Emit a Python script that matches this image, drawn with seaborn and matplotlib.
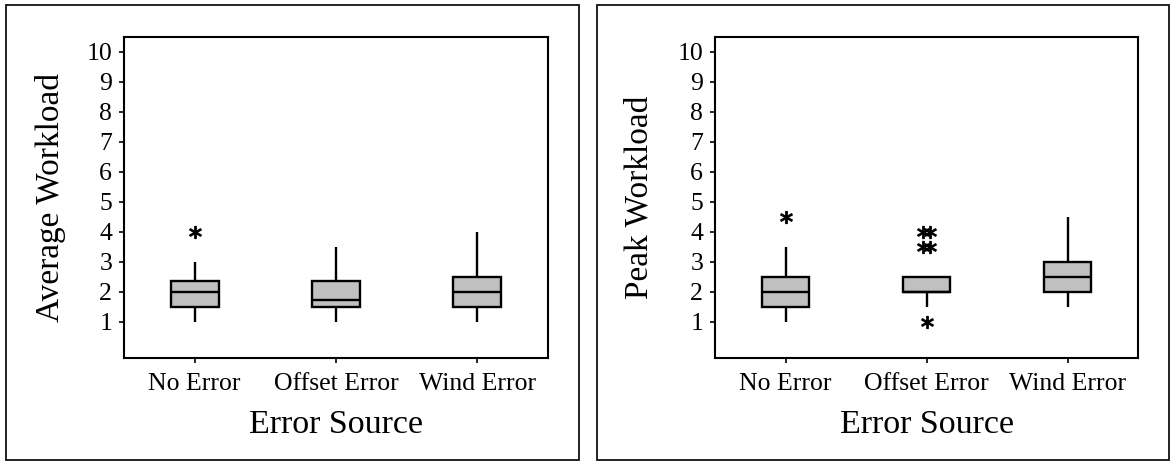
import numpy as np
import pandas as pd
import matplotlib
matplotlib.use("Agg")
import matplotlib.pyplot as plt
from matplotlib.patches import Rectangle
from matplotlib import cbook
import seaborn as sns

# ---- data (ratings) ----
categories = ["No Error", "Offset Error", "Wind Error"]

avg_no_error = [1, 1.5, 1.5, 1.5, 2, 2, 2, 2.5, 3, 4]
avg_offset_error = [1, 1.5, 1.5, 1.5, 1.5, 2, 2, 2.5, 3, 3.5]
avg_wind_error = [1, 1.5, 1.5, 1.5, 2, 2, 2.5, 2.5, 3, 4]

peak_no_error = [1, 1.5, 1.5, 1.5, 2, 2, 2.5, 2.5, 3.5, 4.5]
peak_offset_error = [1, 1.5, 2, 2, 2, 2, 2, 2, 2, 2.5, 2.5, 2.5, 2.5, 3.5, 3.5, 4, 4]
peak_wind_error = [1.5, 2, 2, 2, 2.5, 2.5, 3, 3, 3.5, 4.5]

y_ticks = [1, 2, 3, 4, 5, 6, 7, 8, 9, 10]
y_labels = ["Average Workload", "Peak Workload"]
x_label = "Error Source"


def long_form(groups):
    rows = []
    for cat, vals in zip(categories, groups):
        for v in vals:
            rows.append({"source": cat, "value": v})
    return pd.DataFrame(rows)


panels = [
    long_form([avg_no_error, avg_offset_error, avg_wind_error]),
    long_form([peak_no_error, peak_offset_error, peak_wind_error]),
]

sns.set_theme(style="white")
plt.rcParams["font.family"] = ["Liberation Serif", "DejaVu Serif"]
plt.rcParams["text.color"] = "black"
plt.rcParams["axes.labelcolor"] = "black"
plt.rcParams["xtick.color"] = "black"
plt.rcParams["ytick.color"] = "black"

W, H = 1170, 462
fig = plt.figure(figsize=(W / 100, H / 100), dpi=100)

# outer frames (pixel boxes -> figure fractions)
frames = [(6, 5, 579, 460), (597, 5, 1169, 460)]
axes_px = [(124, 37, 548, 358), (715, 37, 1138, 358)]
ylabel_x = [-0.137, -0.143]

for (x0, y0, x1, y1) in frames:
    fig.patches.append(Rectangle((x0 / W, 1 - y1 / H), (x1 - x0) / W, (y1 - y0) / H,
                                 transform=fig.transFigure, fill=False,
                                 edgecolor="#111111", linewidth=1.3))

for i, df in enumerate(panels):
    x0, y0, x1, y1 = axes_px[i]
    ax = fig.add_axes([x0 / W, 1 - y1 / H, (x1 - x0) / W, (y1 - y0) / H])
    sns.boxplot(data=df, x="source", y="value", order=categories, ax=ax,
                width=0.34, whis=1.5, showfliers=False, showcaps=False,
                boxprops=dict(facecolor="#c0c0c0", edgecolor="black", linewidth=1.7),
                medianprops=dict(color="black", linewidth=1.7),
                whiskerprops=dict(color="black", linewidth=1.7),
                linecolor="black")
    # outliers, duplicates shown side by side
    for j, cat in enumerate(categories):
        vals = df.loc[df["source"] == cat, "value"].to_numpy()
        st = cbook.boxplot_stats(vals, whis=1.5)[0]
        fl = np.asarray(st["fliers"])
        uniq, counts = np.unique(fl, return_counts=True)
        for v, c in zip(uniq, counts):
            offs = (np.arange(c) - (c - 1) / 2) * 0.045
            ax.scatter(j + offs, np.full(c, v), marker="$*$", s=75,
                       color="black", edgecolors="black", linewidths=0.9, zorder=5)

    ax.set_xlim(-0.5, 2.5)
    ax.set_ylim(-0.2, 10.5)
    ax.set_yticks(y_ticks)
    ax.set_yticklabels([str(t) for t in y_ticks])
    ax.tick_params(axis="both", which="major", direction="out", length=3.5,
                   width=1.2, color="black", labelcolor="black", labelsize=18.5,
                   pad=5, left=True, bottom=True)
    ax.tick_params(axis="x", pad=7)
    for s in ax.spines.values():
        s.set_color("black")
        s.set_linewidth(1.5)
        s.set_visible(True)
    ax.set_xlabel(x_label, fontsize=24.5, color="black")
    ax.set_ylabel(y_labels[i], fontsize=24, color="black")
    ax.xaxis.set_label_coords(0.5, -0.16)
    ax.yaxis.set_label_coords(ylabel_x[i], 0.5)

fig.savefig("out.png", dpi=100)
